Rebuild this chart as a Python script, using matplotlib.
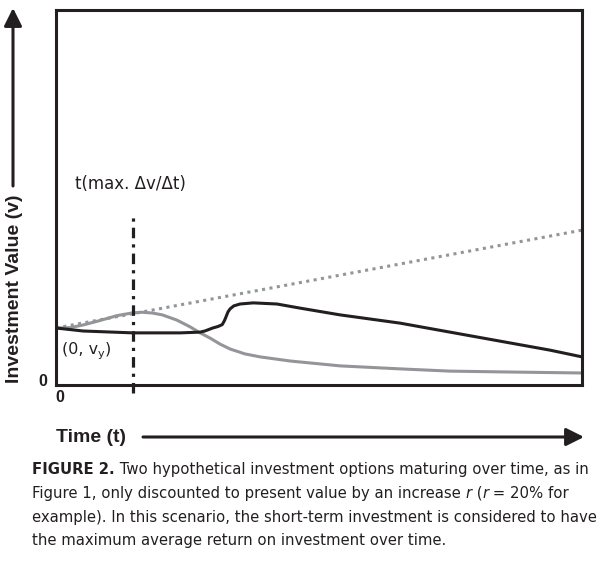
import numpy as np
import matplotlib
matplotlib.use("Agg")
import matplotlib.pyplot as plt

# valores (t y v en escala 0..100)
t_corto = [0, 2.66, 5.13, 8.37, 11.6, 14.4, 16.3, 18.3, 20.2, 23.0, 25.5, 27.4, 29.3, 31.2, 33.1,
           35.9, 38.8, 44.5, 54.0, 65.4, 74.9, 84.4, 100]
v_corto = [15.2, 15.3, 16.0, 17.2, 18.5, 19.2, 19.4, 19.2, 18.7, 17.3, 15.5, 13.9, 12.5, 10.9, 9.6,
           8.3, 7.5, 6.4, 5.1, 4.3, 3.7, 3.5, 3.2]

t_largo = [0, 5.13, 14.6, 23.6, 27.4, 28.3, 29.8, 30.8, 31.6, 32.0, 32.3, 32.7, 33.1, 33.8, 35.0,
           37.5, 42.0, 46.4, 54.0, 65.4, 74.9, 84.4, 93.9, 100]
v_largo = [15.2, 14.4, 13.9, 13.9, 14.1, 14.4, 15.2, 15.6, 16.1, 17.1, 18.1, 19.5, 20.3, 21.1, 21.6,
           21.9, 21.6, 20.5, 18.7, 16.5, 14.1, 11.7, 9.3, 7.5]

t_tasa = [0, 100]
v_tasa = [15.2, 41.3]

t_max = 14.6

NEGRO = "#231f20"
GRIS = "#939598"
FUENTE = ["Liberation Sans Narrow", "Liberation Sans", "DejaVu Sans"]
FUENTE_TXT = ["DejaVu Sans"]

W, H = 600, 571
fig = plt.figure(figsize=(W / 100, H / 100), dpi=100)


def px(x, y):
    return x / W, 1 - y / H


ax = fig.add_axes([56 / W, (H - 385) / H, 526 / W, 375 / H])
ax.set_xlim(0, 100)
ax.set_ylim(0, 100)
ax.set_xticks([])
ax.set_yticks([])
for s in ax.spines.values():
    s.set_linewidth(2.2)
    s.set_color(NEGRO)

ax.plot(t_tasa, v_tasa, color=GRIS, lw=2.2, linestyle=(0, (1, 1.45)), dash_capstyle="butt")
ax.plot(t_corto, v_corto, color=GRIS, lw=2.2, solid_joinstyle="round", solid_capstyle="round")
ax.plot(t_largo, v_largo, color=NEGRO, lw=2.2, solid_joinstyle="round", solid_capstyle="round")
ax.plot([t_max, t_max], [-2.1, 45.0], color=NEGRO, lw=2.3,
        linestyle=(0, (3.3, 1.9, 1.0, 1.9)), dash_capstyle="butt", clip_on=False)

ax.text(3.6, 53.5, "t(max. \u0394v/\u0394t)", fontsize=12, family=FUENTE_TXT,
        color=NEGRO, va="center", ha="left")

renderer = fig.canvas.get_renderer()


def ancho(s, **kw):
    a = fig.text(0, 0, "X" + s + "X", **kw)
    b = fig.text(0, 0, "XX", **kw)
    w = a.get_window_extent(renderer).width - b.get_window_extent(renderer).width
    a.remove()
    b.remove()
    return w


def tramos(x, y, partes):
    # dibuja trozos de texto seguidos en pixeles
    for s, kw in partes:
        dy = kw.pop("dy", 0)
        fig.text(*px(x, y + dy), s, va="baseline", ha="left", color=NEGRO, **kw)
        x += ancho(s, **kw)


tramos(62, 353, [("(0, v", dict(fontsize=11.5, family=FUENTE_TXT)),
                 ("y", dict(fontsize=8, family=FUENTE_TXT, dy=4)),
                 (")", dict(fontsize=11.5, family=FUENTE_TXT))])

fig.text(*px(43, 381), "0", fontsize=11.5, fontweight="bold", family=FUENTE, ha="center", va="center", color=NEGRO)
fig.text(*px(60, 398), "0", fontsize=11.5, fontweight="bold", family=FUENTE, ha="center", va="center", color=NEGRO)

# ejes con flecha
fig.text(*px(15, 289), "Investment Value (v)", rotation=90, fontsize=14, fontweight="bold",
         family=FUENTE, ha="center", va="center", color=NEGRO)
fig.text(*px(56, 437), "Time (t)", fontsize=14, fontweight="bold",
         family=FUENTE, ha="left", va="center", color=NEGRO)
fig.add_artist(matplotlib.patches.FancyArrowPatch(px(13, 186), px(13, 8), transform=fig.transFigure,
               arrowstyle="-|>,head_length=0.9,head_width=0.45", lw=2.2, color=NEGRO,
               mutation_scale=12, shrinkA=0, shrinkB=0))
fig.add_artist(matplotlib.patches.FancyArrowPatch(px(143, 437), px(584, 437), transform=fig.transFigure,
               arrowstyle="-|>,head_length=0.9,head_width=0.45", lw=2.2, color=NEGRO,
               mutation_scale=12, shrinkA=0, shrinkB=0))

# pie de figura
tam = 10.7
n = dict(fontsize=tam, family=FUENTE_TXT)
b = dict(fontsize=tam, family=FUENTE_TXT, fontweight="bold")
it = dict(fontsize=tam, family=FUENTE_TXT, style="italic")
tramos(32, 474, [("FIGURE 2.", b), (" Two hypothetical investment options maturing over time, as in", n)])
tramos(32, 498, [("Figure 1, only discounted to present value by an increase ", n), ("r", it),
                 (" (", n), ("r", it), (" = 20% for", n)])
tramos(32, 522, [("example). In this scenario, the short-term investment is considered to have", n)])
tramos(32, 545, [("the maximum average return on investment over time.", n)])

fig.savefig("out.png", dpi=100)
